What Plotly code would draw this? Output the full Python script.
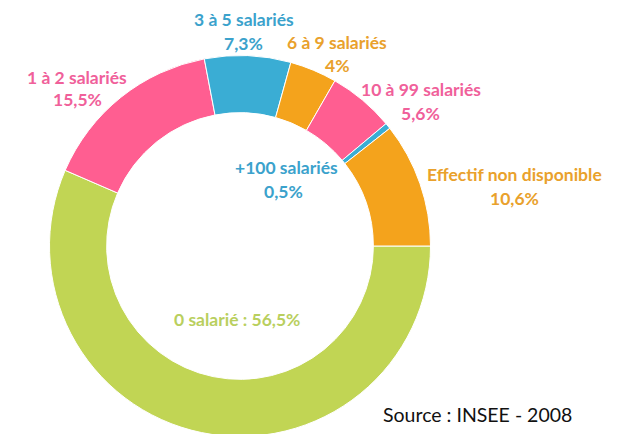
import plotly.graph_objects as go

# Data
categories = ["0 salarié", "1 à 2 salariés", "3 à 5 salariés", "6 à 9 salariés",
              "10 à 99 salariés", "+100 salariés", "Effectif non disponible"]
values = [56.5, 15.5, 7.3, 4, 5.6, 0.5, 10.6]
slice_colors = ["#C1D554", "#FF5E91", "#3AADD4", "#F4A31C", "#FF5E91", "#3AADD4", "#F4A31C"]
text_colors = ["#B9CF5E", "#F0609A", "#3BA2CC", "#E9A12C", "#F0609A", "#3BA2CC", "#E9A12C"]
source_text = "Source : INSEE - 2008"

W, H = 619, 434
OFF = 8  # page body margin offset


def px_x(x):
    return (x - OFF) / W


def px_y(y):
    return 1 - (y - OFF) / H


# ring geometry in window pixels
cx, cy, R = 240, 246, 190.5

fig = go.Figure(go.Pie(
    labels=categories,
    values=values,
    sort=False,
    direction="clockwise",
    rotation=90,
    hole=0.70,
    marker=dict(colors=slice_colors, line=dict(color="white", width=1)),
    textinfo="none",
    hoverinfo="label+percent",
    showlegend=False,
    domain=dict(x=[px_x(cx - R), px_x(cx + R)], y=[px_y(cy + R), px_y(cy - R)]),
))


def fmt(v):
    return ("%g" % v).replace(".", ",") + "%"


# label positions (window pixels): (name_x, name_y, value_x, value_y)
label_pos = [
    (237, 319, None, None),
    (77, 77, 77, 100),
    (244, 20, 243, 43),
    (337, 42, 337, 66),
    (421, 90, 421, 114),
    (286, 168, 283, 192),
    (514, 174, 514, 199),
]

ann = []
font_family = "Lato"
fs = 17.5
for i, (nx, ny, vx, vy) in enumerate(label_pos):
    if vx is None:
        txt = f"{categories[i]} : {fmt(values[i])}"
        ann.append(dict(x=px_x(nx), y=px_y(ny), xref="paper", yref="paper", text=f"<b>{txt}</b>",
                        showarrow=False, xanchor="center", yanchor="middle",
                        font=dict(family=font_family, size=fs, color=text_colors[i])))
    else:
        ann.append(dict(x=px_x(nx), y=px_y(ny), xref="paper", yref="paper", text=f"<b>{categories[i]}</b>",
                        showarrow=False, xanchor="center", yanchor="middle",
                        font=dict(family=font_family, size=fs, color=text_colors[i])))
        ann.append(dict(x=px_x(vx), y=px_y(vy), xref="paper", yref="paper", text=f"<b>{fmt(values[i])}</b>",
                        showarrow=False, xanchor="center", yanchor="middle",
                        font=dict(family=font_family, size=fs, color=text_colors[i])))

ann.append(dict(x=px_x(477), y=px_y(414), xref="paper", yref="paper", text=source_text,
                showarrow=False, xanchor="center", yanchor="middle",
                font=dict(family=font_family, size=19.5, color="#111111")))

fig.update_layout(
    width=W, height=H,
    margin=dict(l=0, r=0, t=0, b=0),
    paper_bgcolor="white", plot_bgcolor="white",
    annotations=ann,
)

fig.write_html("out.html")
